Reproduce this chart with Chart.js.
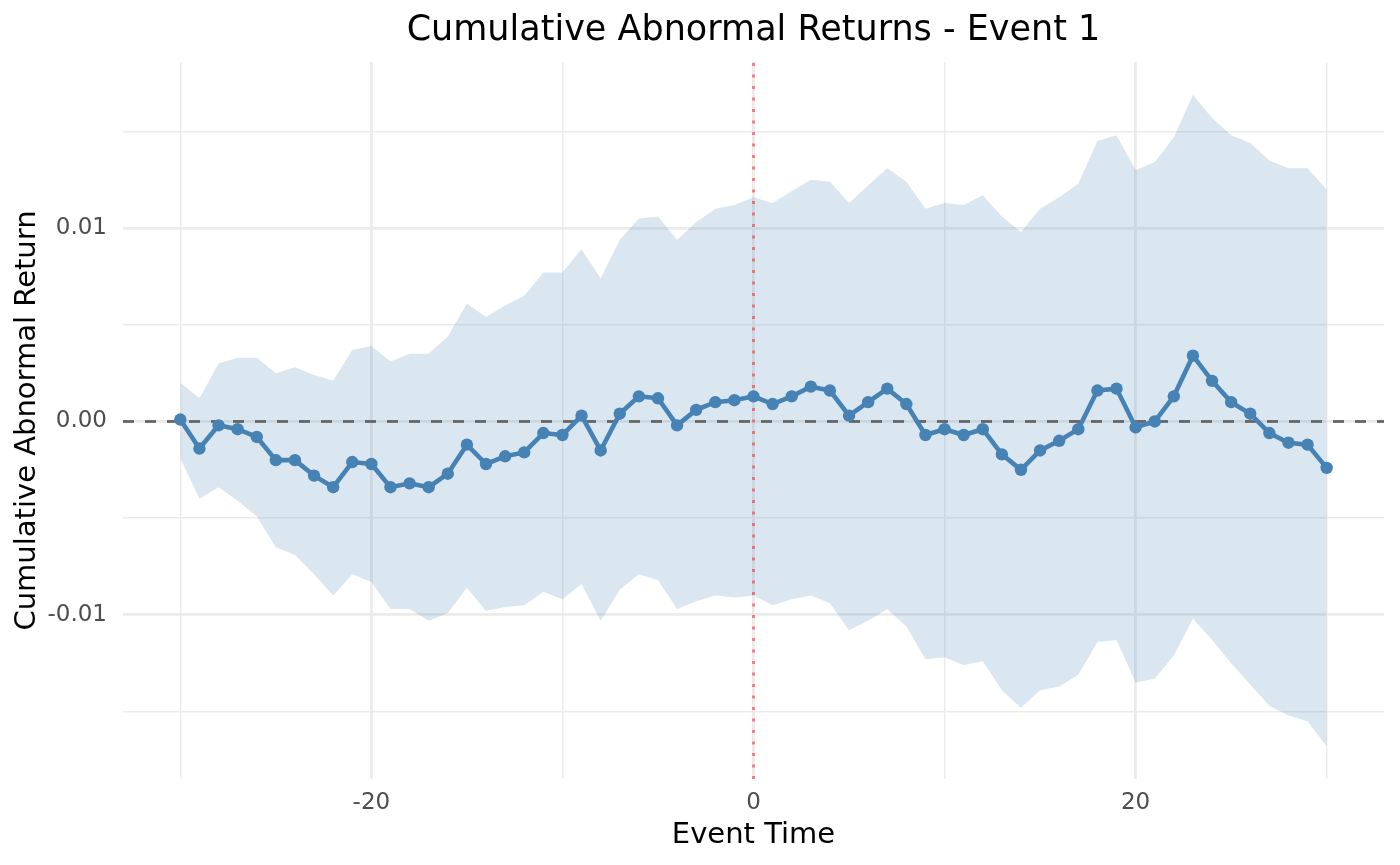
<!DOCTYPE html>
<html>
<head>
<meta charset="utf-8">
<script src="https://cdn.jsdelivr.net/npm/chart.js@4.4.1/dist/chart.umd.min.js"></script>
<style>
  html, body { margin: 0; padding: 0; background: #ffffff; }
  #wrap { width: 1400px; height: 865px; }
</style>
</head>
<body>
<div id="wrap"><canvas id="c" width="1400" height="865"></canvas></div>
<script>
const titleText = "Cumulative Abnormal Returns - Event 1";
const xTitle = "Event Time";
const yTitle = "Cumulative Abnormal Return";

const eventTime = [-30,-29,-28,-27,-26,-25,-24,-23,-22,-21,-20,-19,-18,-17,-16,-15,-14,-13,-12,-11,-10,-9,-8,-7,-6,-5,-4,-3,-2,-1,0,1,2,3,4,5,6,7,8,9,10,11,12,13,14,15,16,17,18,19,20,21,22,23,24,25,26,27,28,29,30];

const car = [0.0001,-0.0014,-0.0002,-0.0004,-0.0008,-0.0020,-0.0020,-0.0028,-0.0034,-0.0021,-0.0022,-0.0034,-0.0032,-0.0034,-0.0027,-0.0012,-0.0022,-0.0018,-0.0016,-0.0006,-0.0007,0.0003,-0.0015,0.0004,0.0013,0.0012,-0.0002,0.0006,0.0010,0.0011,0.0013,0.0009,0.0013,0.0018,0.0016,0.0003,0.0010,0.0017,0.0009,-0.0007,-0.0004,-0.0007,-0.0004,-0.0017,-0.0025,-0.0015,-0.0010,-0.0004,0.0016,0.0017,-0.0003,0.0000,0.0013,0.0034,0.0021,0.0010,0.0004,-0.0006,-0.0011,-0.0012,-0.0024];

const upper = [0.0020,0.0012,0.0030,0.0033,0.0033,0.0025,0.0028,0.0024,0.0021,0.0037,0.0039,0.0031,0.0035,0.0035,0.0044,0.0061,0.0054,0.0060,0.0065,0.0077,0.0077,0.0089,0.0074,0.0094,0.0105,0.0106,0.0094,0.0103,0.0110,0.0112,0.0116,0.0113,0.0119,0.0125,0.0124,0.0113,0.0122,0.0131,0.0124,0.0110,0.0113,0.0112,0.0117,0.0106,0.0098,0.0110,0.0116,0.0123,0.0145,0.0148,0.0130,0.0134,0.0147,0.0169,0.0157,0.0148,0.0144,0.0135,0.0131,0.0131,0.0120];

const lower = [-0.0019,-0.0040,-0.0034,-0.0041,-0.0049,-0.0065,-0.0069,-0.0079,-0.0090,-0.0079,-0.0083,-0.0097,-0.0097,-0.0103,-0.0099,-0.0086,-0.0098,-0.0096,-0.0095,-0.0088,-0.0092,-0.0084,-0.0103,-0.0087,-0.0079,-0.0082,-0.0097,-0.0093,-0.0090,-0.0091,-0.0090,-0.0095,-0.0092,-0.0090,-0.0094,-0.0108,-0.0103,-0.0097,-0.0106,-0.0123,-0.0122,-0.0126,-0.0124,-0.0139,-0.0148,-0.0139,-0.0137,-0.0131,-0.0114,-0.0113,-0.0135,-0.0133,-0.0121,-0.0102,-0.0113,-0.0125,-0.0136,-0.0147,-0.0152,-0.0155,-0.0168];

const xTicks = [-30,-20,-10,0,10,20,30];
const xLabels = ["","-20","","0","","20",""];
const yTicks = [-0.015,-0.01,-0.005,0,0.005,0.01,0.015];
const yLabels = ["","-0.01","","0.00","","0.01",""];

const xMin = -33, xMax = 33;
const yMin = -0.01849, yMax = 0.01859;

const pts = arr => arr.map((v,i) => ({x: eventTime[i], y: v}));

const titlePlugin = {
  id: 'panelTitle',
  afterDraw(chart) {
    const ctx = chart.ctx, a = chart.chartArea;
    ctx.save();
    ctx.font = '35px "DejaVu Sans"';
    ctx.fillStyle = '#000000';
    ctx.textAlign = 'center';
    ctx.textBaseline = 'middle';
    ctx.fillText(titleText, (a.left + a.right) / 2, 31);
    ctx.restore();
  }
};

new Chart(document.getElementById('c'), {
  type: 'line',
  data: {
    datasets: [
      { label: 'upper', data: pts(upper), borderWidth: 0, pointRadius: 0,
        backgroundColor: 'rgba(70,130,180,0.2)', fill: '+1', order: 5 },
      { label: 'lower', data: pts(lower), borderWidth: 0, pointRadius: 0,
        backgroundColor: 'rgba(70,130,180,0.2)', fill: false, order: 5 },
      { label: 'zero', data: [{x: xMin, y: 0}, {x: xMax, y: 0}], borderColor: '#666666',
        borderWidth: 2.8, borderDash: [11, 11], pointRadius: 0, fill: false, order: 4 },
      { label: 'event', data: [{x: 0, y: yMin}, {x: 0, y: yMax}], borderColor: 'rgba(255,40,40,0.6)',
        borderWidth: 2.8, borderDash: [3, 8.5], borderCapStyle: 'butt', pointRadius: 0, fill: false, order: 3 },
      { label: 'CAR', data: pts(car), borderColor: '#4682B4', backgroundColor: '#4682B4',
        borderWidth: 4.6, pointRadius: 6.2, pointBorderWidth: 0, pointBackgroundColor: '#4682B4',
        tension: 0, fill: false, order: 1 }
    ]
  },
  options: {
    responsive: false,
    animation: false,
    devicePixelRatio: 1,
    layout: { padding: { top: 62, right: 16, left: 0, bottom: 0 } },
    plugins: { legend: { display: false }, tooltip: { enabled: false }, title: { display: false } },
    elements: { line: { tension: 0 } },
    scales: {
      x: {
        type: 'linear', min: xMin, max: xMax,
        border: { display: false },
        afterFit(s) { s.height = 86; },
        afterBuildTicks(s) { s.ticks = xTicks.map(v => ({value: v})); },
        grid: { color: '#EBEBEB', drawTicks: false,
          lineWidth: c => (c.tick && xLabels[xTicks.indexOf(c.tick.value)] !== "") ? 2.8 : 1.4 },
        ticks: { color: '#4D4D4D', font: { family: 'DejaVu Sans', size: 23 }, padding: 10,
          maxRotation: 0, autoSkip: false,
          callback: v => { const i = xTicks.indexOf(v); return i >= 0 ? xLabels[i] : ''; } },
        title: { display: true, text: xTitle, color: '#000000',
          font: { family: 'DejaVu Sans', size: 29 }, padding: { top: 0, bottom: 12 } }
      },
      y: {
        type: 'linear', min: yMin, max: yMax,
        border: { display: false },
        afterFit(s) { s.width = 123; },
        afterBuildTicks(s) { s.ticks = yTicks.map(v => ({value: v})); },
        grid: { color: '#EBEBEB', drawTicks: false,
          lineWidth: c => (c.tick && yLabels[yTicks.indexOf(c.tick.value)] !== "") ? 2.8 : 1.4 },
        ticks: { color: '#4D4D4D', font: { family: 'DejaVu Sans', size: 23 }, padding: 16,
          autoSkip: false,
          callback: v => { const i = yTicks.indexOf(v); return i >= 0 ? yLabels[i] : ''; } },
        title: { display: true, text: yTitle, color: '#000000',
          font: { family: 'DejaVu Sans', size: 29 }, padding: { top: 10, bottom: 0 } }
      }
    }
  },
  plugins: [titlePlugin]
});
</script>
</body>
</html>
